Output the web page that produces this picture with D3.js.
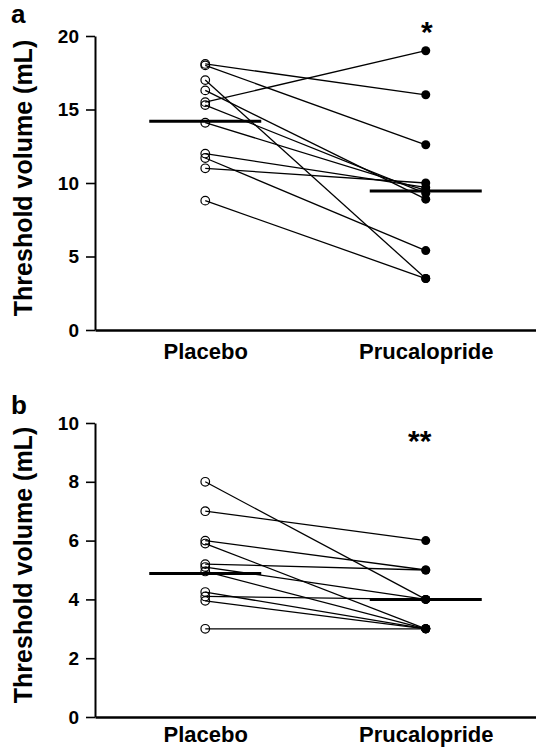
<!DOCTYPE html>
<html>
<head>
<meta charset="utf-8">
<script src="https://cdn.jsdelivr.net/npm/d3@7"></script>
<style>
  body { margin: 0; background: #fff; }
  svg { display: block; }
  text { font-family: "Liberation Sans", Arial, sans-serif; font-weight: bold; fill: #000; }
</style>
</head>
<body>
<div id="chart"></div>
<script>
// categories
var groups = ["Placebo", "Prucalopride"];

// panel a: paired threshold volumes (mL)
var placeboA = [18.1, 18.0, 17.0, 16.3, 15.5, 15.3, 14.1, 12.0, 11.7, 11.0, 8.8];
var prucaA   = [16.0, 12.6, 3.5, 8.9, 19.0, 9.3, 9.5, 9.7, 5.4, 10.0, 3.5];
var meansA   = [14.2, 9.45];
var ticksA   = [0, 5, 10, 15, 20];

// panel b
var placeboB = [8.0, 7.0, 6.0, 5.9, 5.2, 5.1, 4.95, 4.25, 4.1, 3.95, 3.0];
var prucaB   = [4, 6, 5, 3, 5, 4, 3, 3, 4, 3, 3];
var meansB   = [4.88, 4.0];
var ticksB   = [0, 2, 4, 6, 8, 10];

var W = 536, H = 749;

var svg = d3.select("#chart").append("svg")
  .attr("width", W)
  .attr("height", H);

function drawPanel(opts) {
  var g = svg.append("g");

  var x = d3.scalePoint()
    .domain(groups)
    .range([95, 536])
    .padding(0.5);

  var y = d3.scaleLinear()
    .domain([0, opts.max])
    .range([opts.bottom, opts.top]);

  // y axis
  var yAxis = g.append("g")
    .attr("transform", "translate(95,0)")
    .call(d3.axisLeft(y).tickValues(opts.ticks).tickSize(9).tickSizeOuter(0).tickPadding(7));
  yAxis.select(".domain").attr("stroke-width", 2);
  yAxis.selectAll(".tick line").attr("stroke-width", 1.6);
  yAxis.selectAll(".tick text")
    .attr("font-size", 19)
    .attr("font-family", "Liberation Sans, Arial, sans-serif")
    .attr("font-weight", "bold");

  // x axis
  var xAxis = g.append("g")
    .attr("transform", "translate(0," + y(0) + ")")
    .call(d3.axisBottom(x).tickSize(0).tickSizeOuter(0).tickPadding(opts.labelPad));
  xAxis.select(".domain").attr("stroke-width", 2.5);
  xAxis.selectAll(".tick text")
    .attr("font-size", 22)
    .attr("font-family", "Liberation Sans, Arial, sans-serif")
    .attr("font-weight", "bold");

  // axis title
  g.append("text")
    .attr("transform", "translate(32," + ((opts.top + opts.bottom) / 2 - 5) + ") rotate(-90)")
    .attr("text-anchor", "middle")
    .attr("font-size", 25)
    .text("Threshold volume (mL)");

  // panel letter
  g.append("text")
    .attr("x", 11)
    .attr("y", opts.letterY)
    .attr("font-size", 26)
    .text(opts.letter);

  var pairs = opts.pre.map(function(v, i) { return { pre: v, post: opts.post[i] }; });

  // connecting lines
  g.selectAll(".pair")
    .data(pairs)
    .join("line")
    .attr("x1", x(groups[0]))
    .attr("y1", d => y(d.pre))
    .attr("x2", x(groups[1]))
    .attr("y2", d => y(d.post))
    .attr("stroke", "#000")
    .attr("stroke-width", 1.3);

  // mean bars
  g.selectAll(".mean")
    .data(opts.means)
    .join("line")
    .attr("x1", (d, i) => x(groups[i]) - 56)
    .attr("x2", (d, i) => x(groups[i]) + 56)
    .attr("y1", d => y(d))
    .attr("y2", d => y(d))
    .attr("stroke", "#000")
    .attr("stroke-width", 3);

  // placebo open circles
  g.selectAll(".pre")
    .data(opts.pre)
    .join("circle")
    .attr("cx", x(groups[0]))
    .attr("cy", d => y(d))
    .attr("r", 4.3)
    .attr("fill", "none")
    .attr("stroke", "#000")
    .attr("stroke-width", 1.2);

  // prucalopride filled circles
  g.selectAll(".post")
    .data(opts.post)
    .join("circle")
    .attr("cx", x(groups[1]))
    .attr("cy", d => y(d))
    .attr("r", 4.5)
    .attr("fill", "#000");

  // significance
  g.append("text")
    .attr("x", x(groups[1]) + opts.starDx)
    .attr("y", opts.starY)
    .attr("text-anchor", "middle")
    .attr("font-size", 30)
    .text(opts.star);
}

drawPanel({ letter: "a", letterY: 23, pre: placeboA, post: prucaA, means: meansA, ticks: ticksA,
            max: 20, top: 36, bottom: 330, labelPad: 13, star: "*", starY: 42, starDx: 1 });
drawPanel({ letter: "b", letterY: 414, pre: placeboB, post: prucaB, means: meansB, ticks: ticksB,
            max: 10, top: 423, bottom: 717, labelPad: 9, star: "**", starY: 451, starDx: -6 });
</script>
</body>
</html>
